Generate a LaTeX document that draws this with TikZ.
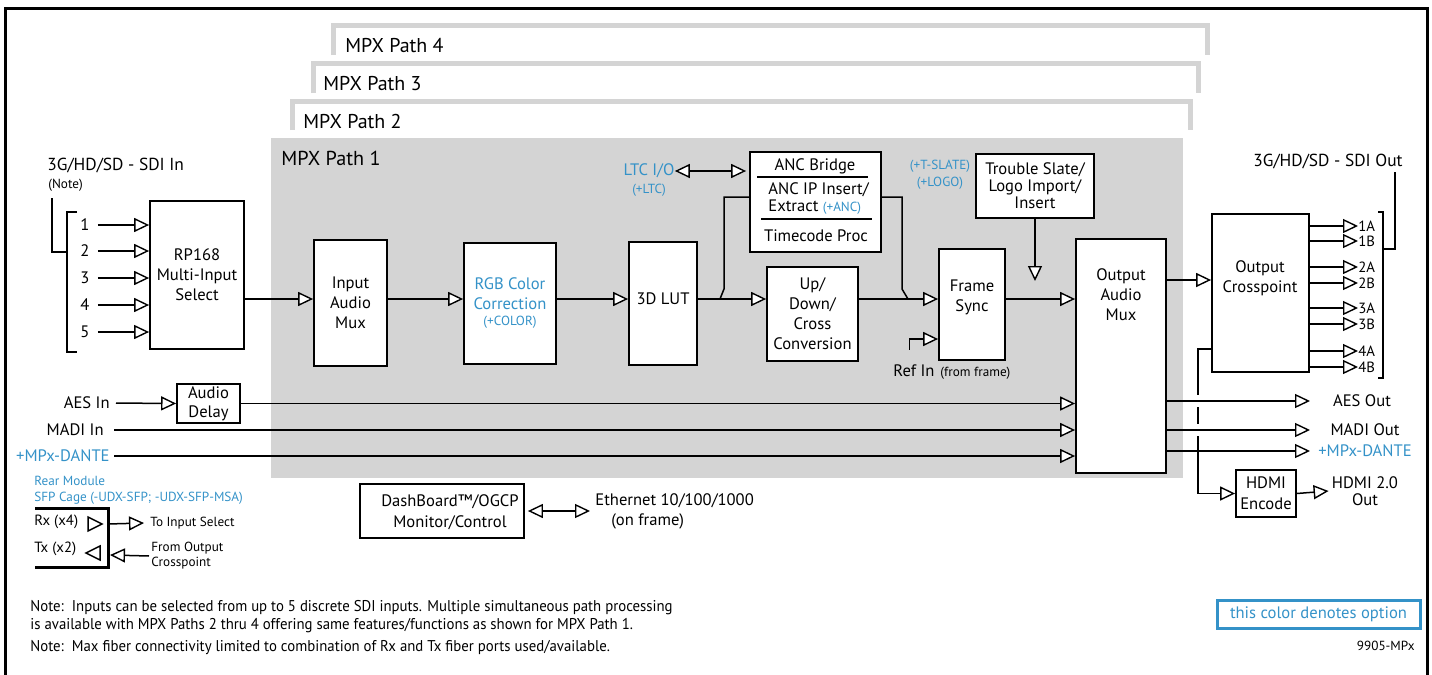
\documentclass[tikz,border=0pt]{standalone}
\usepackage{fontspec}
\setmainfont{PT Sans}
\newfontfamily\condfont[FakeStretch=0.95]{PT Sans}
\usepackage{xcolor}
\usepackage{tikz}
\usetikzlibrary{
    arrows.meta,
    positioning,
    calc
}
\definecolor{optblue}{RGB}{52,146,200}
\definecolor{pathgray}{RGB}{212,212,212}
\newcommand{\lblfont}{\fontsize{8.3}{10}\selectfont}
\newcommand{\tightfont}{\fontsize{8.3}{8.5}\selectfont}
\newcommand{\optfont}{\fontsize{6.6}{8.5}\selectfont}
\newcommand{\portfont}{\fontsize{7.4}{8}\selectfont}
\newcommand{\pathfont}{\fontsize{10}{11}\selectfont}
\newcommand{\notefont}{\condfont\fontsize{7.8}{9}\selectfont}
\tikzset{
    block/.style={
        rectangle,
        draw=black,
        line width=0.9pt,
        fill=white,
        align=center,
        inner sep=0pt,
        font=\lblfont
    },
    lbl/.style={
        inner sep=0pt,
        align=center,
        font=\lblfont
    },
    opt/.style={
        text=optblue
    },
    wire/.style={
        line width=0.75pt
    },
    arrow/.style={
        -{Triangle[length=7.5pt, width=7pt, fill=white, line width=0.7pt]},
        line width=0.75pt
    },
    dblarrow/.style={
        {Triangle[length=7.5pt, width=7pt, fill=white, line width=0.7pt]}-{Triangle[length=7.5pt, width=7pt, fill=white, line width=0.7pt]},
        line width=0.75pt
    },
    pathbar/.style={
        draw=pathgray,
        line width=2.5pt
    },
    heavy/.style={
        line width=1.5pt
    }
}
\begin{document}
\begin{tikzpicture}[x=0.5pt, y=-0.5pt]
\useasboundingbox (0,0) rectangle (1432,675);
\draw[heavy] (5,675) -- (5,8) -- (1427,8) -- (1427,675);

\draw[pathbar] (333,55) -- (333,25) -- (1207,25) -- (1207,55);
\draw[pathbar] (313,93) -- (313,63) -- (1198,63) -- (1198,93);
\draw[pathbar] (292,130) -- (292,101) -- (1190,101) -- (1190,130);
\fill[pathgray] (271,138) rectangle (1183,478);
\node[lbl, anchor=west, font=\pathfont] (path4) at (345,46) {MPX Path 4};
\node[lbl, anchor=west, font=\pathfont] (path3) at (323,84) {MPX Path 3};
\node[lbl, anchor=west, font=\pathfont] (path2) at (303,121) {MPX Path 2};
\node[lbl, anchor=west, font=\fontsize{10.1}{11}\selectfont] (path1) at (281,158) {MPX Path 1};

\coordinate (mainline) at (0,299);

\node[lbl, anchor=west, font=\fontsize{8.7}{10}\selectfont] (sdiin) at (47,166) {3G/HD/SD - SDI In};
\node[lbl, anchor=west, font=\optfont] (note) at (48,185) {(Note)};
\draw[wire] (52,198) -- (52,252) -- (67,252);
\draw[wire] (77,212) -- (67,212) -- (67,352) -- (77,352);

\node[block, minimum width=47pt, minimum height=74pt] (sel) at (197,275) {RP168\\Multi-Input\\Select};
\foreach \i/\y in {1/225, 2/251, 3/278, 4/305, 5/332} {
    \node[lbl] (in\i) at (85,\y) {\i};
    \draw[arrow, shorten <=4pt] (in\i.east) -- (sel.west |- in\i.east);
}

\node[block, minimum width=36.5pt, minimum height=63pt] (inmux) at (350.5,303) {Input\\Audio\\Mux};
\node[block, minimum width=46pt, minimum height=60.5pt, text=optblue] (rgb) at (510,303.5) {RGB Color\\Correction\\[-2pt]{\optfont(+COLOR)}};
\node[block, minimum width=34pt, minimum height=61.5pt] (lut) at (663,303.5) {};
\node[lbl] (luttxt) at (lut |- mainline) {3D LUT};
\node[block, minimum width=45.5pt, minimum height=47pt] (udc) at (812.5,314) {Up/\\Down/\\Cross\\Conversion};

\node[block, minimum width=65.5pt, minimum height=50pt] (anc) at (815.5,202) {};
\node[lbl] (ancbr) at (815,166) {ANC Bridge};
\draw[wire] (757,177) -- (868,177);
\node[lbl, anchor=west, align=left, font=\tightfont] (ancip) at (768,198.5) {ANC IP Insert/\\Extract {\optfont\color{optblue}(+ANC)}};
\draw[wire] (761,219) -- (872,219);
\node[lbl] (anctc) at (816,236) {Timecode Proc};

\node[lbl, opt] (ltc) at (649,171) {LTC I/O};
\node[lbl, opt, font=\optfont, below=2.5pt of ltc] (ltcopt) {(+LTC)};
\draw[dblarrow] (ltc.east) -- ([xshift=-1.5pt]anc.west |- ltc.east);

\node[block, minimum width=33pt, minimum height=55.5pt] (fs) at (972,304.5) {};
\node[lbl] (fstxt) at (972,297) {Frame\\Sync};
\node[lbl, anchor=west] (refin) at (893,371) {Ref In};
\node[lbl, font=\optfont, base right=2.5pt of refin] (reffrom) {(from frame)};

\node[lbl, opt, font=\optfont] (slateopt) at (940,175) {(+T-SLATE)\\(+LOGO)};
\node[block, minimum width=59pt, minimum height=32pt, font=\tightfont] (slate) at (1035,186) {Trouble Slate/\\Logo Import/\\Insert};
\coordinate (slatetip) at (1035,281);

\node[block, minimum width=45pt, minimum height=117pt] (outmux) at (1121,356) {};
\node[lbl] (outmuxtxt) at (1121,295) {Output\\Audio\\Mux};

\node[block, minimum width=48.5pt, minimum height=79pt] (xpt) at (1260.5,293) {};
\node[lbl] (xpttxt) at (1260,278) {Output\\Crosspoint};

\draw[arrow] (sel.east |- mainline) -- (inmux.west |- mainline);
\draw[arrow] (inmux.east |- mainline) -- (rgb.west |- mainline);
\draw[arrow] (rgb.east |- mainline) -- (lut.west |- mainline);
\draw[arrow] (lut.east |- mainline) -- (udc.west |- mainline);
\draw[arrow] (udc.east |- mainline) -- (fs.west |- mainline);
\draw[arrow] (fs.east |- mainline) -- (outmux.west |- mainline);
\coordinate (brin) at (720,299);
\coordinate (brout) at (908,299);
\draw[wire] (brin) -- ++(4,-10) |- ([yshift=2.5pt]anc.west);
\draw[wire] ([yshift=2.5pt]anc.east) -| ($(brout)+(-6,-10)$) -- (brout);
\draw[arrow] ([shift={(-4.5,-15)}]refin.north) |- ([yshift=-17.25pt]fs.west);
\draw[arrow] (slate.south) -- (slatetip);

\node[lbl, anchor=east] (aesin) at (110,403) {AES In};
\node[lbl, anchor=east] (madiin) at (104,430) {MADI In};
\node[lbl, anchor=east, opt] (dantein) at (110,456) {+MPx-DANTE};
\node[block, minimum width=31.5pt, minimum height=19.5pt, font=\fontsize{8.3}{9.5}\selectfont] (adly) at (208.5,403.5) {Audio\\Delay};
\draw[arrow, shorten <=3pt] (aesin.east) -- (adly.west);
\draw[arrow] (adly.east) -- (outmux.west |- adly.east);
\draw[arrow, shorten <=5pt] (madiin.east) -- (outmux.west |- madiin.east);
\draw[arrow, shorten <=2pt] (dantein.east) -- (outmux.west |- dantein.east);

\coordinate (xline) at (0,280);
\draw[arrow] (outmux.east |- xline) -- (xpt.west |- xline);

\node[lbl, font=\fontsize{8.7}{10}\selectfont] (sdiout) at (1328,162) {3G/HD/SD - SDI Out};
\foreach \n/\y in {1A/226, 1B/241, 2A/267, 2B/283, 3A/308, 3B/324, 4A/351, 4B/367} {
    \node[lbl, anchor=west, font=\portfont] (o\n) at (1358,\y) {\n};
    \draw[arrow] (xpt.east |- o\n.west) -- (o\n.west);
}
\draw[wire] (1378,212) -- (1383,212) -- (1383,378) -- (1378,378);
\draw[wire] (1383,249) -- (1395,249) -- (1395,172);

\node[lbl] (aesout) at (1362,401) {AES Out};
\node[lbl] (madiout) at (1365,430) {MADI Out};
\node[lbl, opt] (danteout) at (1365,451) {+MPx-DANTE};
\coordinate (outtip) at (1310,0);
\draw[arrow] (outmux.east |- aesout) -- (outtip |- aesout);
\draw[arrow] (outmux.east |- madiout) -- (outtip |- madiout);
\draw[arrow] (outmux.east |- danteout) -- (outtip |- danteout);

\node[block, minimum width=30pt, minimum height=23.5pt, font=\fontsize{8.3}{10.5}\selectfont] (hdmi) at (1266,493.5) {HDMI\\Encode};
\node[lbl, font=\fontsize{8.3}{8.5}\selectfont] (hdmiout) at (1365,491) {HDMI 2.0\\Out};
\coordinate (fbk) at (1198,349);
\draw[wire] (xpt.west |- fbk) -- (fbk) -- ($(fbk)+(0,46)$);
\draw[wire] ($(fbk)+(0,58)$) -- ($(fbk)+(0,75)$);
\draw[arrow] ($(fbk)+(0,87)$) |- (hdmi.west);
\draw[arrow] (hdmi.east) -- ([xshift=-1.5pt]hdmiout.west);

\node[lbl, opt, anchor=west, font=\optfont] (rear) at (34,481) {Rear Module};
\node[lbl, opt, anchor=west, font=\optfont] (sfp) at (34,498) {SFP Cage (-UDX-SFP; -UDX-SFP-MSA)};
\draw[heavy] (35,508) -- (108,508) -- (108,567) -- (35,567);
\node[lbl, anchor=west, font=\portfont] (rx) at (34,522) {Rx (x4)};
\node[lbl, anchor=west, font=\portfont] (tx) at (34,549) {Tx (x2)};
\draw[wire, fill=white] (88,517) -- (102,524) -- (88,531) -- cycle;
\draw[wire, fill=white] (100,546) -- (86,553) -- (100,560) -- cycle;
\coordinate (rxport) at (108,524);
\coordinate (txport) at (110,555);
\node[lbl, anchor=west, font=\optfont] (toin) at (150,523) {To Input Select};
\node[lbl, anchor=west, align=left, font=\fontsize{6.6}{7.5}\selectfont] (fromout) at (151,556) {From Output\\Crosspoint};
\draw[arrow] (rxport) -- ([xshift=-3pt]toin.west);
\draw[arrow] ([xshift=-1pt]fromout.west) -- (txport);

\node[block, minimum width=82pt, minimum height=27pt] (dash) at (442,511) {};
\node[lbl, font=\fontsize{8.3}{10.5}\selectfont] (dashtxt) at (450,512) {DashBoard™/OGCP\\Monitor/Control};
\node[lbl, anchor=west, align=left] (eth) at (595,511) {Ethernet 10/100/1000\\\hspace{8pt}(on frame)};
\draw[dblarrow] ([xshift=1.5pt]dash.east) -- ([xshift=-2.5pt]eth.west);

\node[lbl, anchor=west, align=left, font=\notefont] (note1) at (30,617) {Note:\ \ Inputs can be selected from up to 5 discrete SDI inputs. Multiple simultaneous path processing\\is available with MPX Paths 2 thru 4 offering same features/functions as shown for MPX Path 1.};
\node[lbl, anchor=west, font=\notefont] (note2) at (30,648) {Note:\ \ Max fiber connectivity limited to combination of Rx and Tx fiber ports used/available.};

\node[draw=optblue, line width=1.5pt, minimum width=101.5pt, minimum height=14pt, inner sep=0pt, text=optblue, font=\lblfont] (legend) at (1318.5,614) {this color denotes option};
\node[lbl, anchor=east, font=\optfont] (dwgno) at (1415,646) {9905-MPx};
\end{tikzpicture}
\end{document}
